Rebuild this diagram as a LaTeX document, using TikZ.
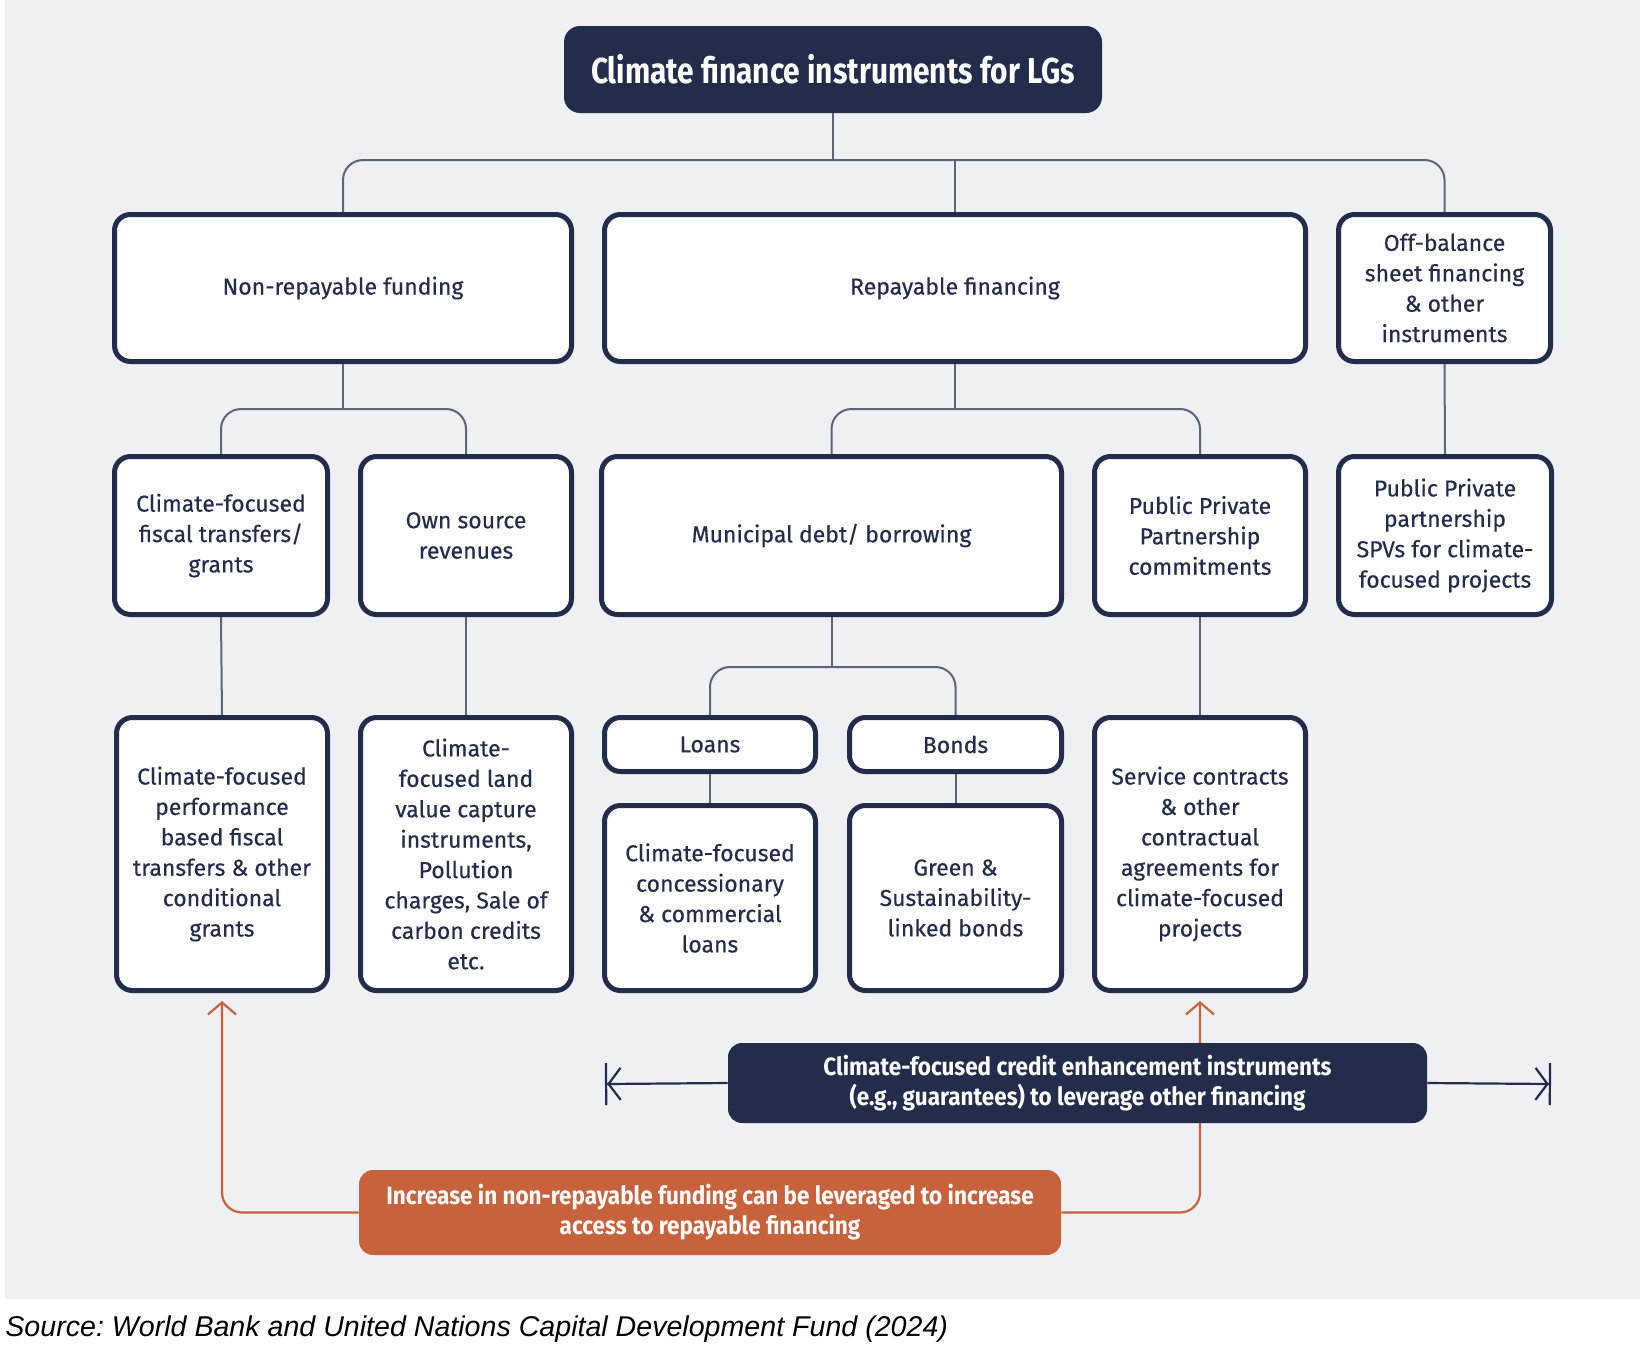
\documentclass[tikz,border=0pt]{standalone}
\usepackage{fontspec}
\setmainfont{Fira Sans}
\newfontfamily\medfont[FakeBold=0.4]{Fira Sans}
\newfontfamily\condfont[FakeStretch=0.9]{Fira Sans}
\newfontfamily\titlefont[FakeStretch=0.83]{Fira Sans}
\newfontfamily\srcfont{Liberation Sans}
\usetikzlibrary{arrows.meta}
\definecolor{navy}{HTML}{232D4B}
\definecolor{bggray}{HTML}{EEF0F4}
\definecolor{linegray}{HTML}{5C6478}
\definecolor{orng}{HTML}{C8623C}
\frenchspacing
\begin{document}
\begin{tikzpicture}[x=0.5pt,y=-0.5pt,
  box/.style={draw=navy, line width=2.5pt, fill=white, rounded corners=8pt,
    align=center, text=navy, inner sep=0pt,
    font=\medfont\fontsize{11.5}{15.2}\selectfont},
  wd/.style={minimum width={#1*0.5pt-2.5pt}},
  ht/.style={minimum height={#1*0.5pt-2.5pt}},
  darkbox/.style={fill=navy, draw=none, rounded corners=7pt, align=center,
    text=white, inner sep=0pt, font=\condfont\bfseries\fontsize{12.5}{15}\selectfont},
  orbox/.style={fill=orng, draw=none, rounded corners=7pt, align=center,
    text=white, inner sep=0pt, font=\condfont\bfseries\fontsize{12.5}{15}\selectfont},
  conn/.style={draw=linegray, line width=1pt, rounded corners=10pt},
  orline/.style={draw=orng, line width=1.1pt, rounded corners=10pt,
    -{Straight Barb[length=6pt,width=14pt,line width=1.1pt]}},
  nvline/.style={draw=navy, line width=1.1pt,
    -{Straight Barb[length=6pt,width=16pt,line width=1.1pt]Bar[width=21pt,line width=1.1pt]}}
]
\useasboundingbox (0,0) rectangle (1643,1344);
\fill[white] (0,0) rectangle (1643,1344);
\fill[bggray] (5,0) rectangle (1640,1299);

% title
\node[fill=navy, rounded corners=8pt, text=white, inner sep=0pt,
  minimum width=269pt, minimum height=43.5pt,
  font=\titlefont\bfseries\fontsize{18}{21}\selectfont] (title) at (833,69.5)
  {Climate finance instruments for LGs};

% row 1
\node[box, wd=462, ht=152] (NR) at (343,288) {Non-repayable funding};
\node[box, wd=706, ht=152] (R) at (955,288) {Repayable financing};
\node[box, wd=217, ht=152] (OB) at (1444.5,288) {Off-balance\\sheet financing\\\& other\\instruments};

% row 2
\node[box, wd=218, ht=163] (CF) at (221,535.5) {Climate-focused\\fiscal transfers/\\grants};
\node[box, wd=216, ht=163] (OS) at (466,535.5) {Own source\\revenues};
\node[box, wd=465, ht=163] (MD) at (831.5,535.5) {Municipal debt/ borrowing};
\node[box, wd=216, ht=163] (PPC) at (1200,535.5) {Public Private\\Partnership\\commitments};
\node[box, wd=218, ht=163] (SPV) at (1445,535.5) {Public Private\\partnership\\SPVs for climate-\\focused projects};

% row 3
\node[box, wd=216, ht=278] (CFP) at (222,854) {Climate-focused\\performance\\based fiscal\\transfers \& other\\conditional\\grants};
\node[box, wd=216, ht=278] (CFL) at (466,854) {Climate-\\focused land\\value capture\\instruments,\\Pollution\\charges, Sale of\\carbon credits\\etc.};
\node[box, wd=216, ht=59] (LO) at (710,744.5) {Loans};
\node[box, wd=217, ht=59] (BO) at (955.5,744.5) {Bonds};
\node[box, wd=216, ht=190] (CC) at (710,898) {Climate-focused\\concessionary\\\& commercial\\loans};
\node[box, wd=217, ht=190] (GB) at (955.5,898) {Green \&\\Sustainability-\\linked bonds};
\node[box, wd=216, ht=278] (SC) at (1200,854) {Service contracts\\\& other\\contractual\\agreements for\\climate-focused\\projects};

% tree connectors
\coordinate (bus1) at (833,160);
\draw[conn] (title.south) -- (bus1);
\draw[conn] (NR.north) |- (bus1) -| (OB.north);
\draw[conn] (R.north) -- (R.north |- bus1);

\draw[conn] (NR.south) -- ++(0,45) coordinate (b2);
\draw[conn] (CF.north) |- (b2) -| (OS.north);
\draw[conn] (R.south) -- ++(0,45) coordinate (b3);
\draw[conn] (MD.north) |- (b3) -| (PPC.north);
\draw[conn] (OB.south) -- (SPV.north);

\draw[conn] (CF.south) -- (CFP.north);
\draw[conn] (OS.south) -- (CFL.north);
\draw[conn] (MD.south) -- ++(0,50) coordinate (b4);
\draw[conn] (LO.north) |- (b4) -| (BO.north);
\draw[conn] (LO.south) -- (CC.north);
\draw[conn] (BO.south) -- (GB.north);
\draw[conn] (PPC.south) -- (SC.north);

% orange feedback
\node[orbox, minimum width=351pt, minimum height=42.5pt] (OR) at (710,1212.5)
  {Increase in non-repayable funding can be leveraged to increase\\access to repayable financing};
\draw[orline] (OR.west) -| ([yshift=-4pt]CFP.south);
\draw[orline] (OR.east) -| ([yshift=-4pt]SC.south);

% credit enhancement
\node[darkbox, minimum width=349.5pt, minimum height=40pt] (CR) at (1077.5,1083)
  {Climate-focused credit enhancement instruments\\(e.g., guarantees) to leverage other financing};
\coordinate (Lend) at (605,1084);
\coordinate (Rend) at (1551,1084);
\draw[nvline] (CR.west) -- (Lend);
\draw[nvline] (CR.east) -- (Rend);

% source
\node[anchor=base west, inner sep=0pt, text=black,
  font=\srcfont\itshape\fontsize{14.3}{16}\selectfont] (src) at (5,1336)
  {Source: World Bank and United Nations Capital Development Fund (2024)};
\end{tikzpicture}
\end{document}
